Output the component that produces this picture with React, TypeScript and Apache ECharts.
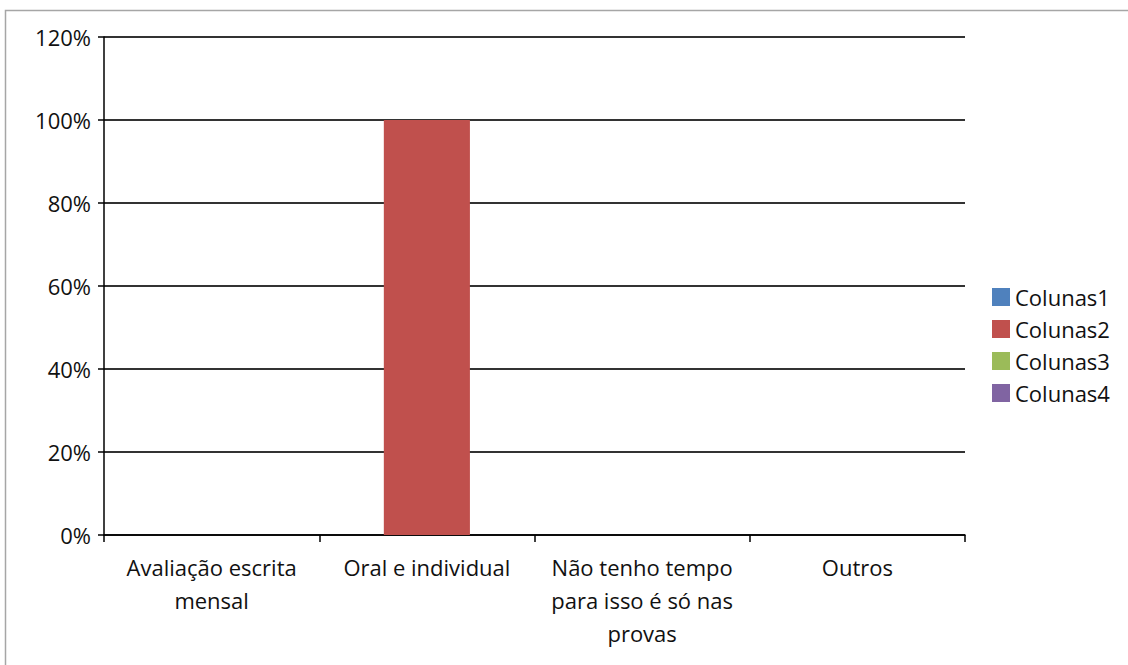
import React, { useEffect, useRef } from "react";
import * as echarts from "echarts";

const categories = [
  "Avaliação escrita\nmensal",
  "Oral e individual",
  "Não tenho tempo\npara isso é só nas\nprovas",
  "Outros",
];
const seriesNames = ["Colunas1", "Colunas2", "Colunas3", "Colunas4"];
const colunas1 = [0, 0, 0, 0];
const colunas2 = [0, 1, 0, 0];
const colunas3 = [0, 0, 0, 0];
const colunas4 = [0, 0, 0, 0];
const colors = ["#4f81bd", "#c0504d", "#9bbb59", "#8064a2"];

const FONT = "'Open Sans', 'Noto Sans', sans-serif";
const FS = 22;

export default function App() {
  const ref = useRef<HTMLDivElement>(null);
  useEffect(() => {
    if (!ref.current) return;
    const chart = echarts.init(ref.current, undefined, { renderer: "svg" });
    const values = [colunas1, colunas2, colunas3, colunas4];
    chart.setOption({
      animation: false,
      backgroundColor: "#ffffff",
      color: colors,
      textStyle: { fontFamily: FONT },
      graphic: [
        {
          type: "rect",
          shape: { x: 5.5, y: 10.5, width: 1130, height: 670 },
          style: { fill: "none", stroke: "#a6a6a6", lineWidth: 1.5 },
          silent: true,
          z: -1,
        },
      ],
      grid: { left: 104, right: 163, top: 37, bottom: 130, containLabel: false },
      legend: {
        orient: "vertical",
        left: 987,
        top: 281,
        itemWidth: 18,
        itemHeight: 18,
        itemGap: 10,
        icon: "rect",
        textStyle: { fontFamily: FONT, fontSize: FS, color: "#111", padding: [0, 0, 0, 0] },
        data: seriesNames,
      },
      xAxis: {
        type: "category",
        data: categories,
        axisLine: { lineStyle: { color: "#000", width: 1.5 } },
        axisTick: { show: true, length: 7, lineStyle: { color: "#000", width: 1.5 } },
        axisLabel: {
          interval: 0,
          fontFamily: FONT,
          fontSize: FS,
          color: "#111",
          lineHeight: 33,
          margin: 15,
          align: "center",
        },
        splitLine: { show: false },
      },
      yAxis: {
        type: "value",
        min: 0,
        max: 1.2,
        interval: 0.2,
        axisLine: { show: true, lineStyle: { color: "#000", width: 1.5 } },
        axisTick: { show: true, length: 6, lineStyle: { color: "#000", width: 1.5 } },
        axisLabel: {
          fontFamily: FONT,
          fontSize: FS,
          color: "#111",
          margin: 13,
          formatter: (v: number) => Math.round(v * 100) + "%",
        },
        splitLine: { show: true, lineStyle: { color: "#333", width: 2 } },
      },
      series: seriesNames.map((name, i) => ({
        name,
        type: "bar",
        stack: "total",
        barWidth: "40%",
        data: values[i],
        itemStyle: { color: colors[i] },
      })),
    });
    return () => chart.dispose();
  }, []);
  return (
    <div
      ref={ref}
      style={{ position: "absolute", left: 0, top: 0, width: 1128, height: 665 }}
    />
  );
}
